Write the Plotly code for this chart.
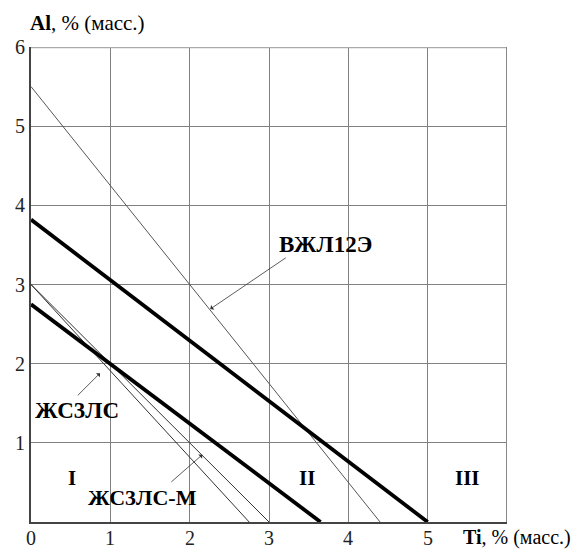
import plotly.graph_objects as go

# Data (Ti, % vs Al, %)
vzhl12e_x = [0, 4.4]
vzhl12e_y = [5.5, 0]
thick_upper_x = [0, 5.0]
thick_upper_y = [3.82, 0]
thick_lower_x = [0, 3.65]
thick_lower_y = [2.75, 0]
thin_a_x = [0, 3.0]
thin_a_y = [3.0, 0]
thin_b_x = [0, 2.75]
thin_b_y = [3.0, 0]

x_ticks = [0, 1, 2, 3, 4, 5]
y_ticks = [1, 2, 3, 4, 5, 6]
region_labels = ["I", "II", "III"]
region_x = [0.52, 3.48, 5.5]
region_y = [0.56, 0.56, 0.56]

FONT = "'Liberation Serif', 'Times New Roman', Times, serif"

fig = go.Figure()
fig.add_trace(go.Scatter(x=vzhl12e_x, y=vzhl12e_y, mode="lines",
                         line=dict(color="#555555", width=1)))
fig.add_trace(go.Scatter(x=thin_a_x, y=thin_a_y, mode="lines",
                         line=dict(color="#333333", width=1)))
fig.add_trace(go.Scatter(x=thin_b_x, y=thin_b_y, mode="lines",
                         line=dict(color="#333333", width=1)))
fig.add_trace(go.Scatter(x=thick_upper_x, y=thick_upper_y, mode="lines",
                         line=dict(color="black", width=3.8)))
fig.add_trace(go.Scatter(x=thick_lower_x, y=thick_lower_y, mode="lines",
                         line=dict(color="black", width=3.8)))

ann = []
ann.append(dict(x=3.71, y=3.5, text="<b>ВЖЛ12Э</b>", showarrow=False,
                font=dict(family=FONT, size=23, color="black")))
ann.append(dict(x=0.58, y=1.41, text="<b>ЖС3ЛС</b>", showarrow=False,
                font=dict(family=FONT, size=23, color="black")))
ann.append(dict(x=1.40, y=0.31, text="<b>ЖС3ЛС-М</b>", showarrow=False,
                font=dict(family=FONT, size=22, color="black")))
for (tx, ty, hx, hy) in [(3.23, 3.35, 2.26, 2.69),
                         (0.57, 1.58, 0.87, 1.88),
                         (1.75, 0.49, 2.16, 0.85)]:
    ann.append(dict(x=hx, y=hy, ax=tx, ay=ty, xref="x", yref="y",
                    axref="x", ayref="y", text="", showarrow=True,
                    arrowhead=1, arrowsize=1.2, arrowwidth=0.8,
                    arrowcolor="#333333"))
for lbl, rx, ry in zip(region_labels, region_x, region_y):
    ann.append(dict(x=rx, y=ry, text="<b>%s</b>" % lbl, showarrow=False,
                    font=dict(family=FONT, size=21, color="black")))
ann.append(dict(xref="paper", yref="paper", x=-0.007, y=1.0, yshift=10,
                xanchor="left", yanchor="bottom",
                text="<b>Al</b>, % (масс.)", showarrow=False,
                font=dict(family=FONT, size=21, color="black")))
ann.append(dict(xref="paper", yref="paper", x=1.0, y=0, xshift=-46, yshift=-29,
                xanchor="left", yanchor="bottom",
                text="<b>Ti</b>, % (масс.)", showarrow=False,
                font=dict(family=FONT, size=20, color="black")))
for v in x_ticks:
    ann.append(dict(x=v, y=0, xref="x", yref="y", yshift=-3, yanchor="top",
                    text=str(v), showarrow=False,
                    font=dict(family=FONT, size=20, color="#222222")))

fig.update_layout(
    template="none",
    width=571, height=541,
    margin=dict(l=23, r=72, t=39, b=27, autoexpand=False),
    paper_bgcolor="white", plot_bgcolor="white",
    showlegend=False,
    annotations=ann,
    font=dict(family=FONT, size=20, color="#222222"),
)
fig.update_xaxes(range=[0, 6], tickvals=x_ticks, showticklabels=False,
                 showgrid=True, gridcolor="#808080", gridwidth=1.2,
                 showline=True, linecolor="#444444", linewidth=2, mirror=False,
                 zeroline=False, ticks="", ticklen=0, fixedrange=True,
                 automargin=False)
fig.update_yaxes(range=[0, 6], tickvals=y_ticks, ticktext=[str(v) for v in y_ticks],
                 showgrid=True, gridcolor="#808080", gridwidth=1.2,
                 showline=True, linecolor="#444444", linewidth=2, mirror=False,
                 zeroline=False, ticks="", ticklen=0, fixedrange=True,
                 automargin=False, tickfont=dict(family=FONT, size=20, color="#222222"))
fig.add_shape(type="line", xref="x", yref="y", x0=0, x1=6, y0=6, y1=6,
              line=dict(color="#aaaaaa", width=2.5))
fig.add_shape(type="line", xref="x", yref="y", x0=6, x1=6, y0=0, y1=6,
              line=dict(color="#888888", width=2))

fig.write_html("out.html")
